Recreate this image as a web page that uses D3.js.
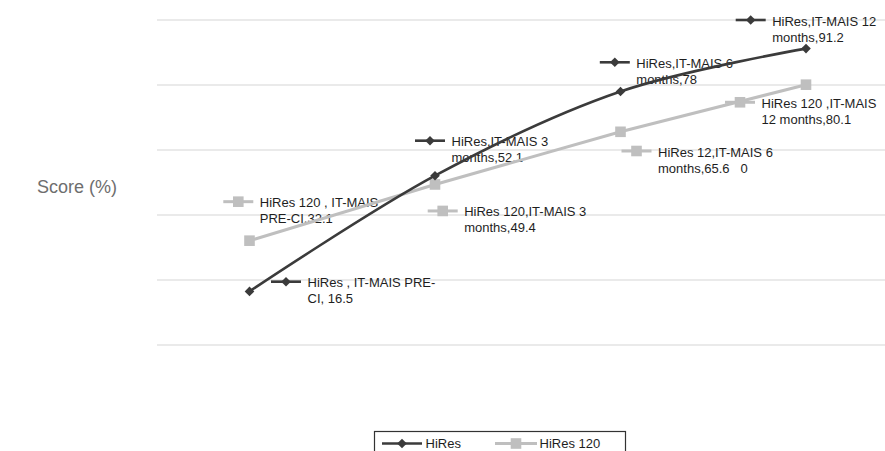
<!DOCTYPE html>
<html>
<head>
<meta charset="utf-8">
<script src="https://cdn.jsdelivr.net/npm/d3@7"></script>
<style>
  html, body { margin: 0; padding: 0; background: #fff; }
  svg { display: block; font-family: "Liberation Sans", Arial, sans-serif; }
</style>
</head>
<body>
<svg id="chart" width="885" height="451"></svg>
<script>
const categories = ["IT-MAIS PRE-CI", "IT-MAIS 3 months", "IT-MAIS 6 months", "IT-MAIS 12 months"];
const seriesNames = ["HiRes", "HiRes 120"];
const hiresValues = [16.5, 52.1, 78, 91.2];
const hires120Values = [32.1, 49.4, 65.6, 80.1];
const yTicks = [0, 20, 40, 60, 80, 100];
const hiresLabels = [
  ["HiRes , IT-MAIS PRE-", "CI, 16.5"],
  ["HiRes,IT-MAIS 3", "months,52.1"],
  ["HiRes,IT-MAIS 6", "months,78"],
  ["HiRes,IT-MAIS 12", "months,91.2"]
];
const hires120Labels = [
  ["HiRes 120 , IT-MAIS", "PRE-CI,32.1"],
  ["HiRes 120,IT-MAIS 3", "months,49.4"],
  ["HiRes 12,IT-MAIS 6", "months,65.6   0"],
  ["HiRes 120 ,IT-MAIS", "12 months,80.1"]
];
const yTitle = "Score (%)";

// label placement offsets (layout only, pixels relative to each point)
const hiresLabelOffsets = [[36.5, -9.7], [-5, -35], [-5.7, -29.2], [-55.3, -28.6]];
const hires120LabelOffsets = [[-11.2, -39], [7.7, 26.5], [16, 19.2], [-66, 17.6]];

const darkColor = "#3b3b3b";
const lightColor = "#bfbfbf";

const svg = d3.select("#chart");
const x = d3.scalePoint().domain(categories).range([249.5, 806]);
const y = d3.scaleLinear().domain([0, 100]).range([345, 20]);

// gridlines
svg.append("g").selectAll("line").data(yTicks).join("line")
  .attr("x1", 157).attr("x2", 885)
  .attr("y1", d => y(d)).attr("y2", d => y(d))
  .attr("stroke", "#e3e3e3").attr("stroke-width", 1.3);

// y title
svg.append("text").attr("x", 37).attr("y", 193)
  .attr("font-size", 18).attr("fill", "#6e6e6e").text(yTitle);

function drawMarker(g, cx, cy, kind) {
  if (kind === 0) {
    const r = 4.8;
    g.append("path").attr("d", `M${cx},${cy - r}L${cx + r},${cy}L${cx},${cy + r}L${cx - r},${cy}Z`)
      .attr("fill", darkColor);
  } else {
    g.append("rect").attr("x", cx - 5.3).attr("y", cy - 5.3)
      .attr("width", 10.6).attr("height", 10.6).attr("fill", lightColor);
  }
}

function drawKey(g, cx, cy, kind, halfLen) {
  g.append("line").attr("x1", cx - halfLen).attr("x2", cx + halfLen)
    .attr("y1", cy).attr("y2", cy)
    .attr("stroke", kind === 0 ? darkColor : lightColor)
    .attr("stroke-width", kind === 0 ? 2.6 : 3);
  drawMarker(g, cx, cy, kind);
}

const series = [
  { values: hiresValues, labels: hiresLabels, offsets: hiresLabelOffsets, kind: 0 },
  { values: hires120Values, labels: hires120Labels, offsets: hires120LabelOffsets, kind: 1 }
];

// labels
const labelG = svg.append("g");
series.forEach(s => {
  s.values.forEach((v, i) => {
    const kx = x(categories[i]) + s.offsets[i][0];
    const ky = y(v) + s.offsets[i][1];
    drawKey(labelG, kx, ky, s.kind, 15);
    const t = labelG.append("text").attr("font-size", 13).attr("fill", "#1e1e1e")
      .style("white-space", "pre");
    s.labels[i].forEach((ln, j) => {
      t.append("tspan").attr("x", kx + 21.5).attr("y", ky + 5.5 + j * 16).text(ln);
    });
  });
});

// lines (light first, dark on top)
const lineG = svg.append("g");
[series[1], series[0]].forEach(s => {
  const gen = d3.line()
    .x((d, i) => x(categories[i]))
    .y(d => y(d))
    .curve(s.kind === 0 ? d3.curveCardinal.tension(0) : d3.curveLinear);
  lineG.append("path").datum(s.values).attr("d", gen)
    .attr("fill", "none")
    .attr("stroke", s.kind === 0 ? darkColor : lightColor)
    .attr("stroke-width", s.kind === 0 ? 2.6 : 3);
  s.values.forEach((v, i) => drawMarker(lineG, x(categories[i]), y(v), s.kind));
});

// legend
const lg = svg.append("g");
lg.append("rect").attr("x", 374.5).attr("y", 431.5).attr("width", 251).attr("height", 40)
  .attr("fill", "#fff").attr("stroke", "#333").attr("stroke-width", 1.2);
drawKey(lg, 402, 443.5, 0, 20);
lg.append("text").attr("x", 425.5).attr("y", 447.5).attr("font-size", 13).attr("fill", "#1e1e1e").text(seriesNames[0]);
drawKey(lg, 516, 443.5, 1, 21);
lg.append("text").attr("x", 539.5).attr("y", 447.5).attr("font-size", 13).attr("fill", "#1e1e1e").text(seriesNames[1]);
</script>
</body>
</html>
